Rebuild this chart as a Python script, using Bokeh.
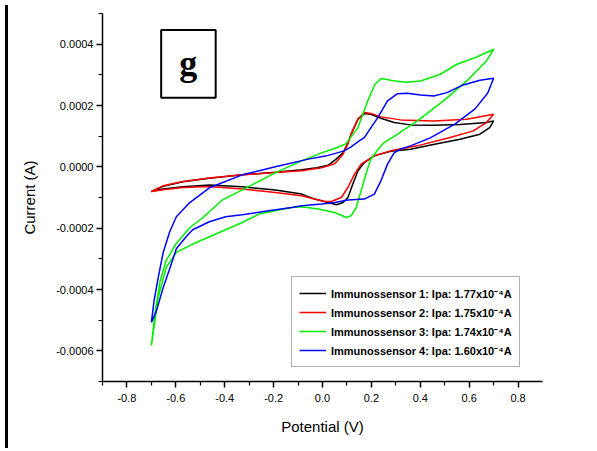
from bokeh.plotting import figure
from bokeh.models import FixedTicker, PrintfTickFormatter, Legend, LegendItem, Div, Range1d
from bokeh.layouts import row
from bokeh.core.properties import value
from bokeh.embed import file_html
from bokeh.resources import INLINE

# ---- data (potential in V, current in A) ----
v1 = [-0.70, -0.652, -0.571, -0.463, -0.328, -0.193, -0.085, -0.024, 0.023, 0.057, 0.084, 0.104, 0.117,
      0.145, 0.171, 0.198, 0.239, 0.293, 0.360, 0.454, 0.563, 0.671, 0.70,
      0.684, 0.644, 0.563, 0.458, 0.360, 0.279, 0.211, 0.171, 0.145, 0.124, 0.104, 0.084, 0.057, 0.023,
      -0.032, -0.085, -0.193, -0.328, -0.463, -0.571, -0.652, -0.70]
i1 = [-80.4e-6, -63.5e-6, -48.9e-6, -37.5e-6, -26.1e-6, -17.9e-6, -9.8e-6, -3.3e-6, 4.9e-6, 26.1e-6,
      45.6e-6, 78.2e-6, 106.5e-6, 155.4e-6, 173.6e-6, 171.6e-6, 158.6e-6, 144.3e-6, 136.8e-6, 135.2e-6,
      138.4e-6, 144.3e-6, 149.8e-6,
      128.0e-6, 106.5e-6, 90.2e-6, 73.9e-6, 57.6e-6, 50.5e-6, 35.8e-6, 14.0e-6, -13.0e-6, -56.3e-6,
      -100.0e-6, -116.3e-6, -123.8e-6, -116.3e-6, -105.2e-6, -88.9e-6, -75.9e-6, -65.1e-6, -59.6e-6,
      -65.1e-6, -72.6e-6, -80.4e-6]

v2 = [-0.70, -0.652, -0.571, -0.463, -0.328, -0.193, -0.085, -0.004, 0.050, 0.084, 0.104, 0.117, 0.145,
      0.171, 0.198, 0.239, 0.320, 0.455, 0.590, 0.70,
      0.671, 0.617, 0.522, 0.387, 0.279, 0.211, 0.158, 0.131, 0.104, 0.077, 0.036, 0.009, -0.032, -0.085,
      -0.193, -0.328, -0.463, -0.571, -0.652, -0.70]
i2 = [-80.4e-6, -61.9e-6, -47.9e-6, -36.8e-6, -26.1e-6, -18.6e-6, -13.0e-6, -3.3e-6, 9.8e-6, 41.4e-6,
      74.9e-6, 106.5e-6, 155.4e-6, 176.9e-6, 174.2e-6, 162.9e-6, 153.1e-6, 149.8e-6, 155.4e-6, 171.6e-6,
      144.3e-6, 117.3e-6, 95.4e-6, 68.4e-6, 52.1e-6, 35.8e-6, 8.8e-6, -23.8e-6, -67.4e-6, -100.0e-6,
      -113.0e-6, -113.0e-6, -105.2e-6, -94.5e-6, -83.7e-6, -72.6e-6, -64.2e-6, -67.4e-6, -74.9e-6, -80.4e-6]

v3 = [-0.70, -0.684, -0.664, -0.640, -0.599, -0.543, -0.490, -0.409, -0.288, -0.194, -0.085, -0.004,
      0.050, 0.095, 0.145, 0.185, 0.215, 0.240, 0.290, 0.340, 0.401, 0.482, 0.550, 0.631, 0.70,
      0.671, 0.590, 0.495, 0.388, 0.307, 0.251, 0.223, 0.198, 0.178, 0.158, 0.138, 0.117, 0.097, 0.050,
      -0.017, -0.085, -0.126, -0.260, -0.328, -0.436, -0.531, -0.598, -0.639, -0.672, -0.70]
i3 = [-583.0e-6, -469.0e-6, -371.3e-6, -306.2e-6, -250.8e-6, -198.7e-6, -166.1e-6, -107.5e-6, -58.6e-6,
      -19.5e-6, 19.5e-6, 45.6e-6, 60.0e-6, 75.0e-6, 128.0e-6, 215.0e-6, 270.0e-6, 288.0e-6, 281.0e-6,
      276.0e-6, 280.1e-6, 301.9e-6, 334.5e-6, 358.3e-6, 383.3e-6,
      345.2e-6, 280.1e-6, 215.0e-6, 149.8e-6, 106.5e-6, 78.2e-6, 52.1e-6, 26.1e-6, -22.8e-6, -78.2e-6,
      -132.6e-6, -159.6e-6, -165.1e-6, -148.8e-6, -137.8e-6, -130.3e-6, -132.6e-6, -154.1e-6, -181.4e-6,
      -219.2e-6, -251.8e-6, -279.1e-6, -328.0e-6, -425.7e-6, -583.0e-6]

v4 = [-0.70, -0.689, -0.672, -0.652, -0.625, -0.598, -0.544, -0.463, -0.328, -0.193, -0.058, 0.016,
      0.089, 0.117, 0.150, 0.171, 0.226, 0.266, 0.307, 0.347, 0.401, 0.455, 0.509, 0.576, 0.644, 0.70,
      0.676, 0.624, 0.543, 0.441, 0.360, 0.320, 0.293, 0.266, 0.239, 0.212, 0.171, 0.104, 0.050, -0.004,
      -0.085, -0.126, -0.220, -0.328, -0.396, -0.463, -0.531, -0.558, -0.598, -0.625, -0.652, -0.679, -0.70]
i4 = [-507.1e-6, -436.4e-6, -361.5e-6, -280.1e-6, -211.7e-6, -162.9e-6, -117.3e-6, -68.4e-6, -26.1e-6,
      0.0, 25.1e-6, 35.8e-6, 52.1e-6, 65.1e-6, 84.7e-6, 95.4e-6, 160.6e-6, 215.0e-6, 238.7e-6, 240.0e-6,
      234.5e-6, 231.2e-6, 242.0e-6, 267.1e-6, 282.4e-6, 288.9e-6,
      241.0e-6, 188.9e-6, 140.1e-6, 94.5e-6, 68.4e-6, 58.6e-6, 45.6e-6, 8.8e-6, -45.6e-6, -88.9e-6,
      -105.2e-6, -108.5e-6, -116.3e-6, -121.5e-6, -127.0e-6, -132.6e-6, -143.3e-6, -156.3e-6, -162.9e-6,
      -179.1e-6, -205.2e-6, -228.0e-6, -267.1e-6, -332.2e-6, -394.1e-6, -469.0e-6, -507.1e-6]

labels = ["Immunossensor 1: Ipa: 1.77x10\u207b\u2074A",
          "Immunossensor 2: Ipa: 1.75x10\u207b\u2074A",
          "Immunossensor 3: Ipa: 1.74x10\u207b\u2074A",
          "Immunossensor 4: Ipa: 1.60x10\u207b\u2074A"]
colors = ["#000000", "#ff0000", "#00ee00", "#0000ff"]

x_ticks = [-0.8, -0.6, -0.4, -0.2, 0.0, 0.2, 0.4, 0.6, 0.8]
x_minor = [-0.9, -0.7, -0.5, -0.3, -0.1, 0.1, 0.3, 0.5, 0.7]
y_ticks = [-0.0006, -0.0004, -0.0002, 0.0, 0.0002, 0.0004]
y_minor = [-0.0007, -0.0005, -0.0003, -0.0001, 0.0001, 0.0003, 0.0005]
panel_letter = "g"

FONT = "Liberation Sans"

p = figure(width=578, height=443, output_backend="svg", toolbar_location=None,
           x_range=Range1d(-0.9, 0.9), y_range=Range1d(-0.0007, 0.0005),
           min_border_left=89, min_border_right=49, min_border_top=13, min_border_bottom=62)
p.outline_line_color = None
p.xgrid.visible = False
p.ygrid.visible = False
p.background_fill_color = "white"
p.border_fill_color = "white"

for ax in (p.xaxis[0], p.yaxis[0]):
    ax.axis_line_width = 1.5
    ax.axis_line_color = "black"
    ax.major_tick_line_width = 1.5
    ax.minor_tick_line_width = 1.2
    ax.major_tick_in = 0
    ax.major_tick_out = 6
    ax.minor_tick_in = 0
    ax.minor_tick_out = 4
    ax.major_label_text_font = FONT
    ax.major_label_text_font_size = "11px"
    ax.major_label_text_color = "black"
    ax.axis_label_text_font = FONT
    ax.axis_label_text_font_size = "15px"
    ax.axis_label_text_font_style = "normal"
    ax.axis_label_text_color = "black"

p.xaxis.ticker = FixedTicker(ticks=x_ticks, minor_ticks=x_minor)
p.yaxis.ticker = FixedTicker(ticks=y_ticks, minor_ticks=y_minor)
p.xaxis.formatter = PrintfTickFormatter(format="%.1f")
p.yaxis.formatter = PrintfTickFormatter(format="%.4f")
p.xaxis.axis_label = "Potential (V)"
p.yaxis.axis_label = "Current (A)"
p.xaxis.major_label_standoff = 6
p.yaxis.major_label_standoff = 3
p.xaxis.axis_label_standoff = 13
p.yaxis.axis_label_standoff = 15

items = []
for vx, iy, c, lab in zip([v1, v2, v3, v4], [i1, i2, i3, i4], colors, labels):
    r = p.line(vx, iy, line_color=c, line_width=1.5)
    items.append(LegendItem(label=lab, renderers=[r]))

legend = Legend(items=items, location=(189, 14))
legend.label_text_font = FONT
legend.label_text_font_size = "11px"
legend.label_text_font_style = "bold"
legend.label_text_color = "black"
legend.label_height = 18
legend.glyph_height = 18
legend.glyph_width = 27
legend.label_standoff = 5
legend.spacing = 1
legend.padding = 7
legend.margin = 0
legend.border_line_color = "#606060"
legend.border_line_width = 1.5
legend.background_fill_color = "white"
legend.background_fill_alpha = 1.0
p.add_layout(legend)

# panel letter box
p.quad(left=[-0.660], right=[-0.437], top=[0.000446], bottom=[0.000225],
       fill_color="white", line_color="black", line_width=2)
p.text(x=[-0.549], y=[0.000337], text=[panel_letter], text_font=value("Liberation Serif"),
       text_font_style="bold", text_font_size="36px", text_align="center",
       text_baseline="alphabetic", text_color="black")

bar = Div(width=3, height=443, styles={"background-color": "black"})
layout = row(bar, p)

open("out.html", "w").write(file_html(layout, INLINE))
